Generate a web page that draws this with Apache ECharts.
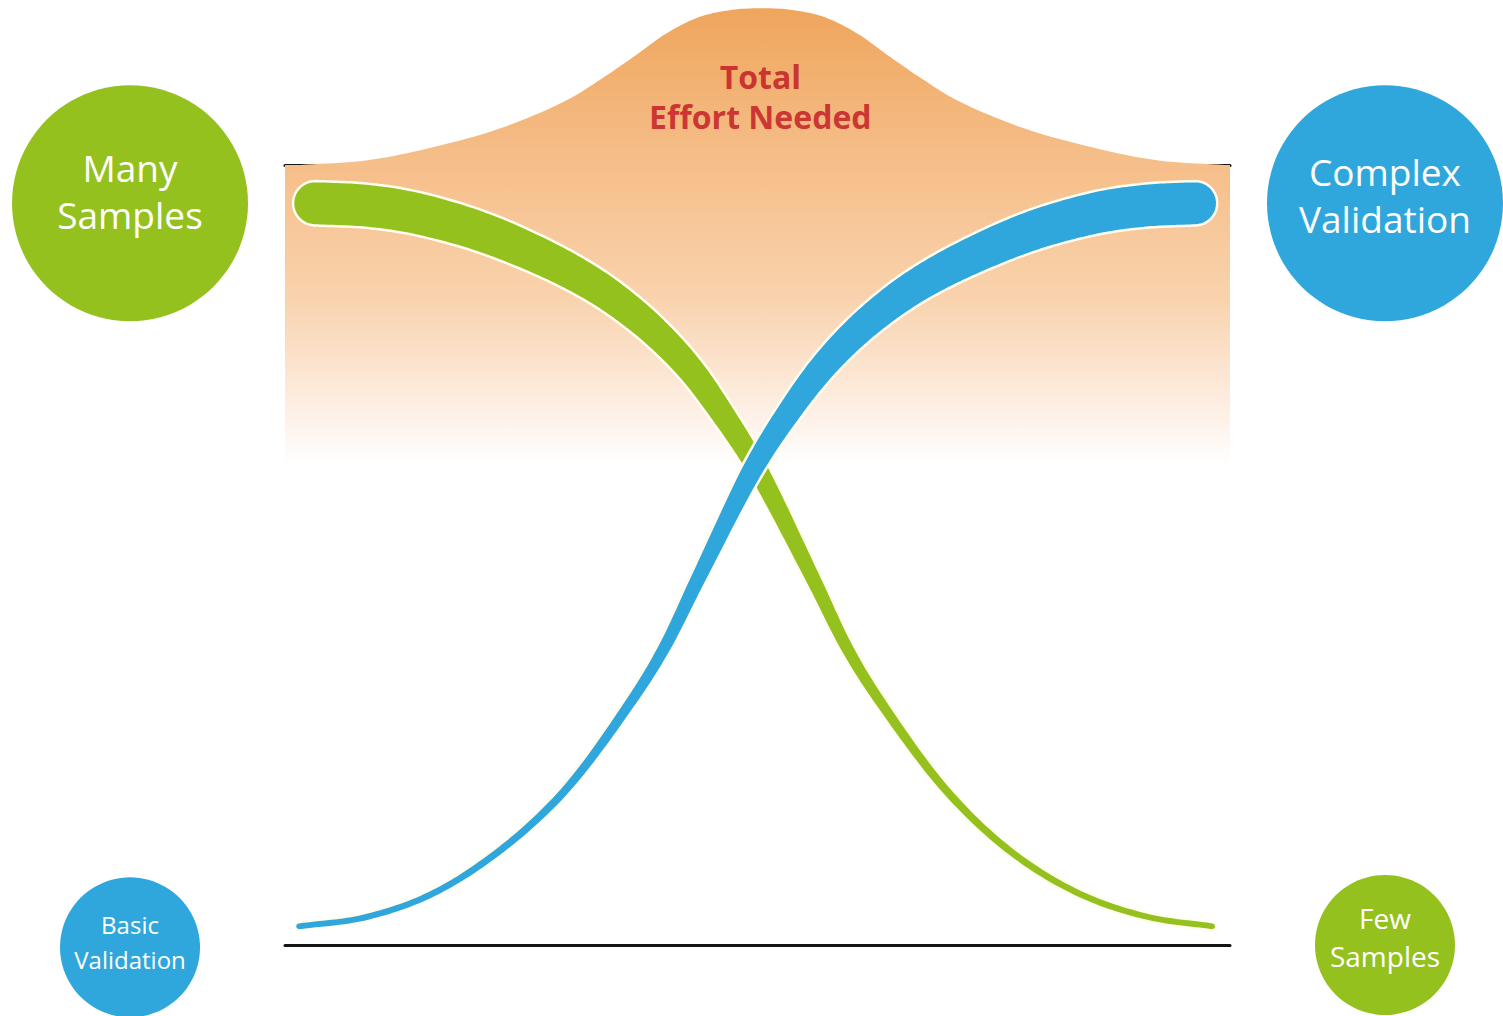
<!DOCTYPE html>
<html>
<head>
<meta charset="utf-8">
<script src="https://cdn.jsdelivr.net/npm/echarts@6/dist/echarts.min.js"></script>
<style>
html,body{margin:0;padding:0;background:#ffffff;}
#chart{width:1503px;height:1016px;}
</style>
</head>
<body>
<div id="chart"></div>
<script>
// ---------------- DATA ----------------
// x: 0 = left end of the frame, 100 = right end; y: 0 = bottom line, 100 = top line
const greenX = [3.2, 8.4, 13.5, 20.6, 27.7, 32.3, 35.8, 39.4, 42.9, 46.3, 49.9, 55.7, 59.6, 63.1, 70.2, 77.1, 84.2, 91.3, 98.1];
const greenY = [95.1, 94.8, 93.9, 91.5, 87.9, 84.9, 82.0, 78.3, 73.8, 68.1, 61.2, 47.4, 37.8, 31.0, 19.5, 11.7, 6.5, 3.6, 2.4];

const blueX = [1.5, 8.3, 15.3, 22.4, 29.4, 36.5, 40.0, 43.9, 49.6, 53.2, 56.7, 60.2, 63.8, 67.3, 71.9, 78.9, 86.0, 91.2, 96.3];
const blueY = [2.4, 3.5, 6.4, 11.8, 19.5, 31.0, 37.8, 47.4, 61.2, 68.1, 73.8, 78.3, 82.0, 84.9, 87.9, 91.5, 93.9, 94.8, 95.1];

const bellX = [1.6, 8.7, 15.7, 22.8, 29.8, 33.3, 36.8, 40.4, 43.9, 47.4, 50.5, 53.5, 57.0, 60.5, 64.1, 67.6, 71.1, 78.2, 85.3, 92.3, 99.4];
const bellY = [100.0, 100.6, 102.3, 104.7, 108.3, 110.9, 113.8, 116.9, 119.0, 119.9, 120.1, 119.9, 119.0, 116.9, 113.8, 110.9, 108.3, 104.7, 102.3, 100.6, 100.0];

const bubbleLabels = ['Many\nSamples', 'Complex\nValidation', 'Basic\nValidation', 'Few\nSamples'];
const titleLabel = 'Total\nEffort Needed';

// ---------------- LAYOUT / STYLE ----------------
const GREEN = '#95c11f';
const BLUE = '#2fa7dc';
const FONT = '"Open Sans", "Noto Sans", sans-serif';
const GRID = {left: 285, right: 273, top: 165, bottom: 71};
const SHADE_BOTTOM = 61.5;   // where the orange wash has faded to white
const TITLE_POS = [50.3, 108.8];
const BUBBLES = [
  {pos: [-16.4, 95.1], size: 236, color: GREEN, font: 37, lh: 47, dy: -12},
  {pos: [116.4, 95.1], size: 236, color: BLUE,  font: 37, lh: 47, dy: -8},
  {pos: [-16.4, -0.3], size: 140, color: BLUE,  font: 24, lh: 35, dy: -5},
  {pos: [116.4, 0],    size: 140, color: GREEN, font: 28, lh: 38, dy: -8}
];

// ---------------- helpers ----------------
// taper of the ribbon width (px): s = 0 at the thick end, 1 at the thin end
function widthAt(s) {
  return 8 + 36.5 * Math.exp(-(s / 0.46) * (s / 0.46));
}

// centripetal Catmull-Rom through screen points
function smoothPts(pts, n) {
  const out = [];
  const N = pts.length;
  const get = i => {
    if (i < 0) return [2 * pts[0][0] - pts[1][0], 2 * pts[0][1] - pts[1][1]];
    if (i >= N) return [2 * pts[N - 1][0] - pts[N - 2][0], 2 * pts[N - 1][1] - pts[N - 2][1]];
    return pts[i];
  };
  const lerp = (a, b, ta, tb, t) => {
    const d = (tb - ta) || 1e-6;
    return [((tb - t) * a[0] + (t - ta) * b[0]) / d, ((tb - t) * a[1] + (t - ta) * b[1]) / d];
  };
  for (let i = 0; i < N - 1; i++) {
    const p0 = get(i - 1), p1 = get(i), p2 = get(i + 1), p3 = get(i + 2);
    const t0 = 0;
    const t1 = t0 + Math.sqrt(Math.hypot(p1[0] - p0[0], p1[1] - p0[1])) + 1e-6;
    const t2 = t1 + Math.sqrt(Math.hypot(p2[0] - p1[0], p2[1] - p1[1])) + 1e-6;
    const t3 = t2 + Math.sqrt(Math.hypot(p3[0] - p2[0], p3[1] - p2[1])) + 1e-6;
    for (let k = 0; k < n; k++) {
      const t = t1 + (t2 - t1) * k / n;
      const A1 = lerp(p0, p1, t0, t1, t), A2 = lerp(p1, p2, t1, t2, t), A3 = lerp(p2, p3, t2, t3, t);
      const B1 = lerp(A1, A2, t0, t2, t), B2 = lerp(A2, A3, t1, t3, t);
      out.push(lerp(B1, B2, t1, t2, t));
    }
  }
  out.push(pts[N - 1].slice());
  return out;
}

function ribbon(pts, thickAtStart) {
  const N = pts.length;
  const cum = [0];
  for (let i = 1; i < N; i++) {
    cum.push(cum[i - 1] + Math.hypot(pts[i][0] - pts[i - 1][0], pts[i][1] - pts[i - 1][1]));
  }
  const L = cum[N - 1];
  const left = [], right = [], tans = [], hs = [];
  for (let i = 0; i < N; i++) {
    const a = pts[Math.max(i - 1, 0)], b = pts[Math.min(i + 1, N - 1)];
    let tx = b[0] - a[0], ty = b[1] - a[1];
    const len = Math.hypot(tx, ty) || 1;
    tx /= len; ty /= len;
    let s = cum[i] / L;
    if (!thickAtStart) s = 1 - s;
    const h = widthAt(s) / 2;
    const nx = -ty, ny = tx;
    left.push([pts[i][0] + nx * h, pts[i][1] + ny * h]);
    right.push([pts[i][0] - nx * h, pts[i][1] - ny * h]);
    tans.push([tx, ty]);
    hs.push(h);
  }
  const poly = left.slice();
  const steps = 16;
  {
    const p = pts[N - 1], t = tans[N - 1], h = hs[N - 1], n = [-t[1], t[0]];
    for (let k = 1; k < steps; k++) {
      const a = Math.PI * k / steps;
      poly.push([p[0] + h * (n[0] * Math.cos(a) + t[0] * Math.sin(a)), p[1] + h * (n[1] * Math.cos(a) + t[1] * Math.sin(a))]);
    }
  }
  for (let i = N - 1; i >= 0; i--) poly.push(right[i]);
  {
    const p = pts[0], t = tans[0], h = hs[0], n = [-t[1], t[0]];
    for (let k = 1; k < steps; k++) {
      const a = Math.PI * k / steps;
      poly.push([p[0] + h * (-n[0] * Math.cos(a) - t[0] * Math.sin(a)), p[1] + h * (-n[1] * Math.cos(a) - t[1] * Math.sin(a))]);
    }
  }
  return poly;
}

function curveSeries(xs, ys, color, thickAtStart, z) {
  return {
    type: 'custom',
    z: z,
    silent: true,
    data: [[50, 50]],
    renderItem: function (params, api) {
      const pts = xs.map((x, i) => api.coord([x, ys[i]]));
      const dense = smoothPts(pts, 16);
      return {
        type: 'polygon',
        shape: {points: ribbon(dense, thickAtStart)},
        style: {fill: color, stroke: '#fffdf0', lineWidth: 2.5, lineJoin: 'round'}
      };
    }
  };
}

// ---------------- chart ----------------
const chart = echarts.init(document.getElementById('chart'), null, {renderer: 'svg'});

const hiddenAxisBase = {
  type: 'value', min: 0, max: 100,
  axisTick: {show: false}, axisLabel: {show: false}, splitLine: {show: false}
};

const option = {
  backgroundColor: '#ffffff',
  animation: false,
  grid: GRID,
  xAxis: [
    Object.assign({}, hiddenAxisBase, {position: 'bottom', axisLine: {show: true, onZero: false, lineStyle: {color: '#141414', width: 3}}}),
    Object.assign({}, hiddenAxisBase, {position: 'top', axisLine: {show: true, onZero: false, lineStyle: {color: '#141414', width: 3}}})
  ],
  yAxis: Object.assign({}, hiddenAxisBase, {axisLine: {show: false}}),
  series: [
    {
      type: 'custom', z: 1, silent: true, data: [[50, 50]],
      renderItem: function (params, api) {
        const a = api.coord([0, 100]), b = api.coord([100, SHADE_BOTTOM]);
        return {
          type: 'rect',
          shape: {x: a[0], y: a[1], width: b[0] - a[0], height: b[1] - a[1]},
          style: {
            fill: {type: 'linear', x: 0, y: 0, x2: 0, y2: 1, colorStops: [
              {offset: 0, color: '#f6be89'},
              {offset: 0.45, color: '#f9d3ae'},
              {offset: 0.8, color: '#fdeee2'},
              {offset: 1, color: '#ffffff'}
            ]}
          }
        };
      }
    },
    {
      type: 'custom', z: 2, silent: true, data: [[50, 50]],
      renderItem: function (params, api) {
        const pts = bellX.map((x, i) => api.coord([x, bellY[i]]));
        const dense = smoothPts(pts, 10);
        return {
          type: 'polygon',
          shape: {points: dense},
          style: {
            fill: {type: 'linear', x: 0, y: 0, x2: 0, y2: 1, colorStops: [
              {offset: 0, color: '#efa55c'},
              {offset: 1, color: '#f6bf8b'}
            ]}
          }
        };
      }
    },
    curveSeries(greenX, greenY, GREEN, true, 4),
    curveSeries(blueX, blueY, BLUE, false, 5),
    {
      type: 'scatter', z: 6, silent: true, clip: false, symbolSize: 0,
      data: [{value: TITLE_POS, name: titleLabel}],
      label: {
        show: true, position: 'inside', formatter: '{b}',
        color: '#c1121f', fontFamily: FONT, fontWeight: 'bold', fontSize: 32, lineHeight: 40, align: 'center'
      }
    },
    {
      type: 'scatter', z: 7, silent: true, clip: false,
      data: BUBBLES.map((b, i) => ({
        value: b.pos,
        name: bubbleLabels[i],
        symbolSize: b.size,
        itemStyle: {color: b.color, opacity: 1},
        label: {
          show: true, position: 'inside', formatter: '{b}', offset: [0, b.dy],
          color: '#ffffff', fontFamily: FONT, fontSize: b.font, lineHeight: b.lh, align: 'center'
        }
      }))
    }
  ]
};
chart.setOption(option);
</script>
</body>
</html>
